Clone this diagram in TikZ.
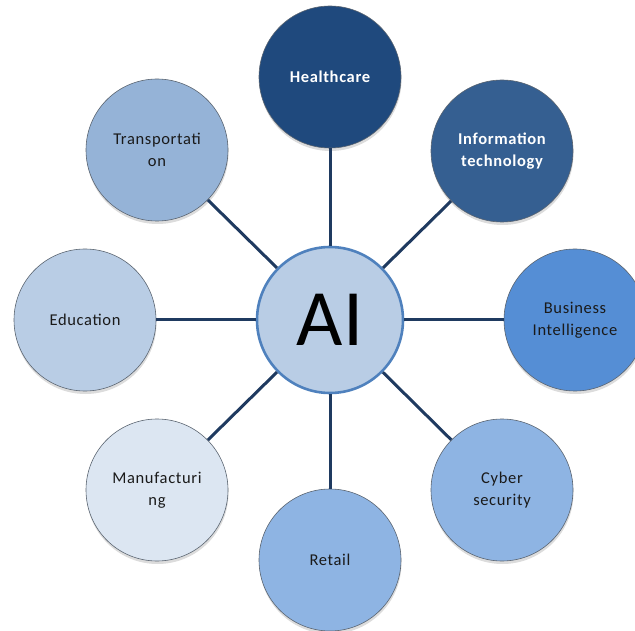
\documentclass[tikz,border=0pt]{standalone}
\usepackage{fontspec}
\setmainfont{Carlito}
\newfontfamily\labelfont[LetterSpace=4]{Carlito}
\usetikzlibrary{shadows}

\definecolor{hubfill}{HTML}{B9CDE5}
\definecolor{hubline}{HTML}{4F81BD}
\definecolor{spokeblue}{HTML}{1F3A60}
\definecolor{rimgrey}{HTML}{5A6470}
\definecolor{textdark}{HTML}{1A1A1A}
\definecolor{cHealth}{HTML}{1F497D}
\definecolor{cIT}{HTML}{355F91}
\definecolor{cBI}{HTML}{558ED5}
\definecolor{cCyber}{HTML}{8EB4E3}
\definecolor{cRetail}{HTML}{8EB4E3}
\definecolor{cManu}{HTML}{DCE6F2}
\definecolor{cEdu}{HTML}{B9CDE5}
\definecolor{cTrans}{HTML}{95B3D7}

\begin{document}
\begin{tikzpicture}[x=1pt,y=-1pt,
  hub/.style={circle, minimum size=146pt, inner sep=0pt, fill=hubfill,
    draw=hubline, line width=2.6pt, text=black,
    font=\fontsize{80}{80}\selectfont},
  topic/.style={circle, minimum size=142pt, inner sep=0pt, draw=rimgrey,
    line width=0.6pt, align=center, text=textdark,
    font=\labelfont\fontsize{16.5}{22}\selectfont,
    drop shadow={opacity=0.28, shadow xshift=0.5pt, shadow yshift=-3pt}},
  lighttext/.style={text=white, font=\labelfont\fontsize{16.5}{22}\selectfont\bfseries},
  spoke/.style={draw=spokeblue, line width=3pt}]

\useasboundingbox (0,0) rectangle (635,631);

% centre hub
\node[hub] (ai) at (330,320) {AI};

% surrounding topics
\node[topic, fill=cHealth, lighttext] (health) at (330,77) {Healthcare};
\node[topic, fill=cIT, lighttext] (it) at (502,151) {Information\\technology};
\node[topic, fill=cBI] (bi) at (575,320) {Business\\Intelligence};
\node[topic, fill=cCyber] (cyber) at (502,490) {Cyber\\security};
\node[topic, fill=cRetail] (retail) at (330,560) {Retail};
\node[topic, fill=cManu] (manu) at (157,490) {Manufacturi\\ng};
\node[topic, fill=cEdu] (edu) at (85,320) {Education};
\node[topic, fill=cTrans] (trans) at (157,150) {Transportati\\on};

% spokes from the hub to each topic
\foreach \t in {health,it,bi,cyber,retail,manu,edu,trans}
  \draw[spoke] (ai) -- (\t);

\end{tikzpicture}
\end{document}
